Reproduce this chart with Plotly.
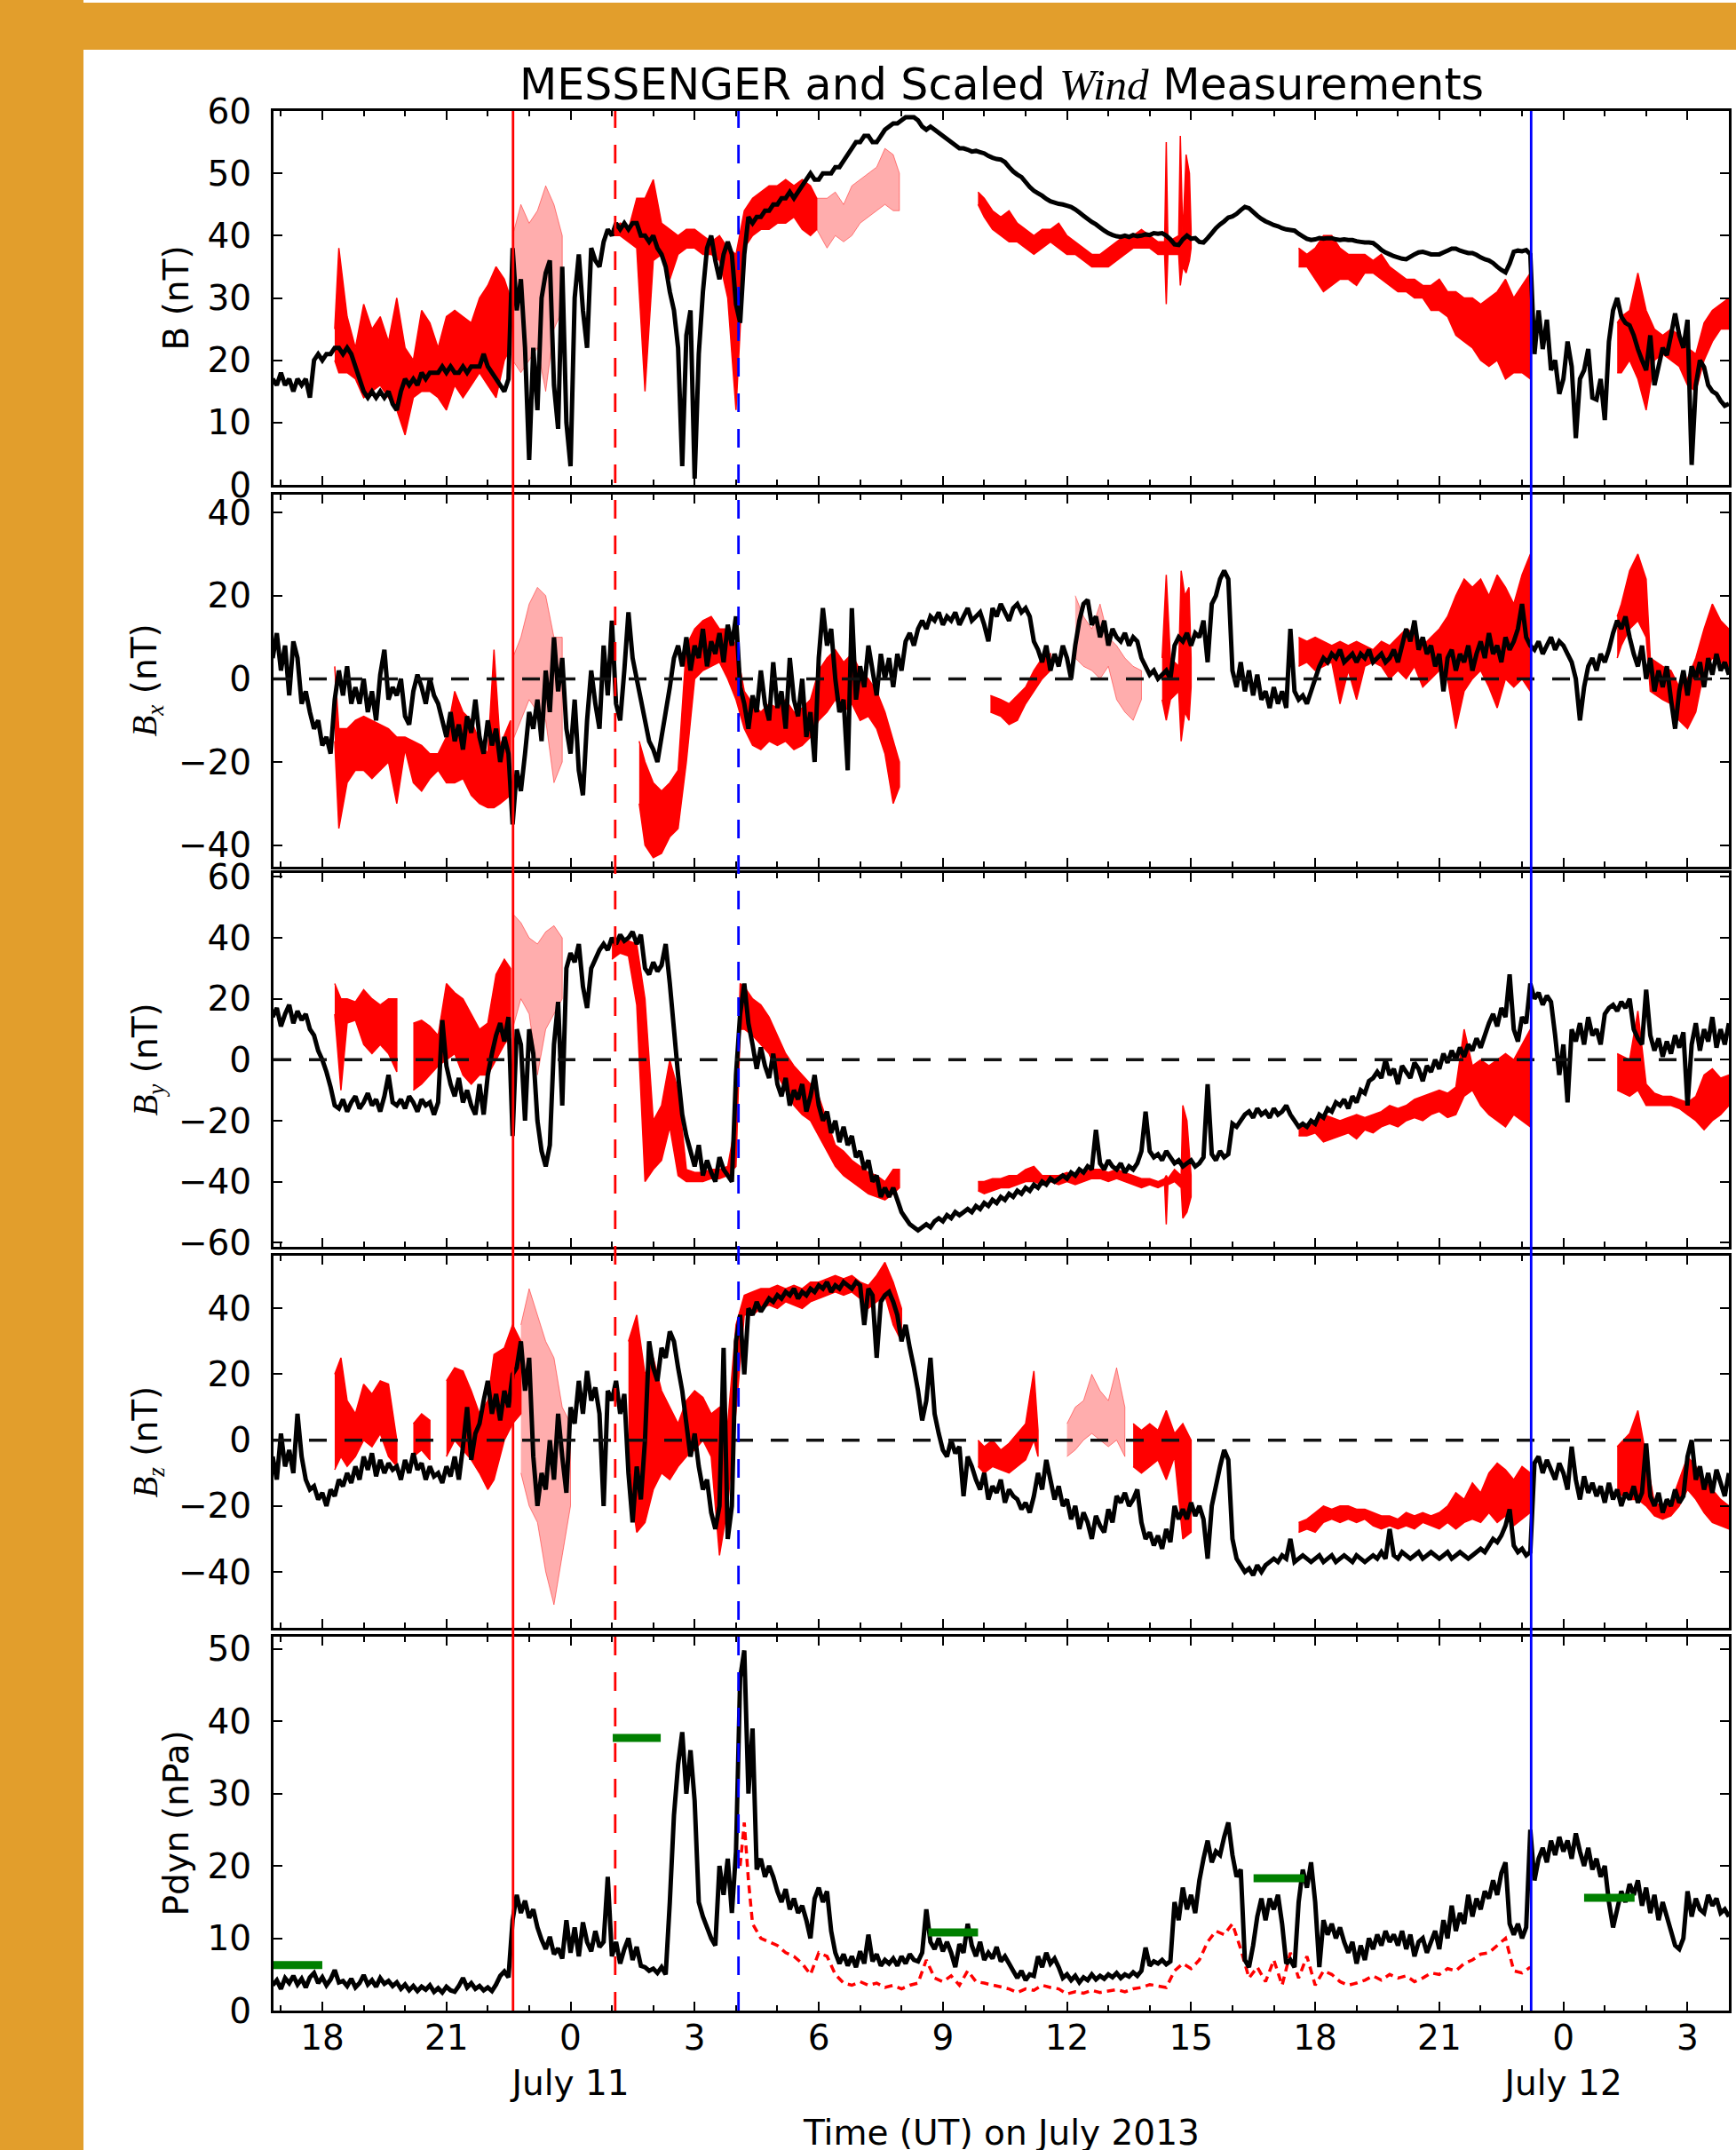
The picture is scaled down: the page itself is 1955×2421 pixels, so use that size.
import plotly.graph_objects as go

# ---------------- data (hours from 2013-07-11 00:00 UT) ----------------
T0 = -7.2      # first sample of the black (MESSENGER) traces
DT = 0.1       # sample spacing in hours

B_BLACK = [
 17,16,18,16,17,15,17,16,17,14,
 20,21,20,21,21,22,22,21,22,21,
 19,17,15,14,15,14,15,14,15,13,
 12,15,17,16,17,16,18,17,18,18,
 18,19,18,19,18,18,19,18,19,19,
 19,21,19,18,17,16,15,17,38,28,
 33,22,4,22,12,30,34,36,16,9,
 35,10,3,30,37,28,22,38,36,35,
 39,41,40,42,41,42,41,42,42,40,
 40,39,40,38,37,35,31,28,22,3,
 24,28,1,21,31,38,40,36,33,37,
 39,37,29,26,37,43,42,43,43,44,
 44,45,45,46,46,47,46,47,48,49,
 50,49,49,50,50,50,51,51,52,53,
 54,55,55,56,56,55,55,56,57,57.5,
 58,58,58.5,59,59,59,58.5,57.5,57,57.5,
 57,56.5,56,55.5,55,54.5,54,54,53.8,53.5,
 53.6,53.4,53.2,52.8,52.5,52.3,52.2,51.8,51,50.3,
 49.8,49.4,48.6,47.8,47.2,46.8,46.4,45.9,45.5,45.3,
 45.1,45,44.8,44.6,44.2,43.7,43.2,42.7,42.2,41.8,
 41.3,40.8,40.4,40.1,39.9,39.8,40,39.8,40.1,39.9,
 40,40.2,40.1,40.4,40.3,40.4,40,39.4,38.6,38.5,
 39.4,40,39.5,39.6,39,38.9,39.6,40.4,41.2,41.8,
 42.3,42.9,43.1,43.5,44.1,44.6,44.4,43.8,43.2,42.7,
 42.3,42,41.7,41.5,41.2,41,40.9,40.8,40.3,39.9,
 39.5,39.3,39.4,39.6,39.5,39.6,39.6,39.4,39.3,39.4,
 39.3,39.3,39.1,39,38.9,38.9,38.8,38.3,37.7,37.3,
 37,36.7,36.5,36.3,36.2,36.6,37,37.3,37.4,37.2,
 37,37,37,37.3,37.6,37.9,37.9,37.6,37.4,37.2,
 37.2,36.9,36.5,36.2,36,35.6,35,34.5,34.1,35.5,
 37.4,37.6,37.5,37.7,37,21,28,21.8,26.5,18.4,
 20,14.6,17,23,19,7.5,17,18.4,21.8,14,
 13.7,17,10.4,23,28,30,27,26,25.6,24,
 21.8,20,18.4,24,16,19,22,20.8,24,27.5,
 24,22,26.5,3.2,16,20,18.9,16,15,14.6,
 13.5,12.7,13,
]

BX_BLACK = [
 5,11,2,8,-4,9,5,-6,-3,-8,
 -12,-10,-16,-14,-18,-5,2,-4,3,-6,
 -2,-6,0,-8,-3,-10,1,7,-5,-2,
 -4,0,-9,-11,-3,1,-2,-6,0,-4,
 -6,-10,-14,-8,-15,-11,-17,-9,-13,-5,
 -14,-18,-10,-16,-12,-20,-14,-18,-35,-22,
 -27,-18,-8,-12,-5,-15,2,-8,10,-3,
 5,-12,-18,-5,-22,-28,-10,2,-6,-12,
 8,-4,14,-6,-10,2,16,5,0,-5,
 -10,-15,-17,-20,-14,-8,-2,5,8,3,
 10,2,8,5,12,3,9,6,11,4,
 13,8,15,-2,-6,-12,-4,-8,2,-6,
 -10,4,-7,-3,-12,5,-5,-9,0,-14,
 -8,-20,5,17,8,12,0,-8,-5,-22,
 17,-5,3,-2,8,2,-4,6,0,5,
 -2,6,2,9,11,8,12,14,12,15,
 14,16,13,15,14,16,13,15,17,14,
 15,16,13,9,17,15,18,16,14,17,
 18,16,17,15,9,7,4,8,2,6,
 3,8,5,0,8,14,18,19,13,15,
 10,14,8,12,10,9,11,8,10,9,
 5,3,1,2,0,1,2,0,8,10,
 9,11,8,11,10,14,4,18,20,24,
 26,24,2,-2,4,-3,2,-4,1,-5,
 -3,-7,-2,-6,-3,-7,12,-3,-5,-4,
 -6,-3,0,3,5,4,6,5,7,4,
 5,6,4,6,5,7,4,5,6,4,
 5,7,4,8,12,9,14,7,10,6,
 8,3,6,-3,5,7,2,6,4,8,
 2,6,9,5,11,6,8,4,10,7,
 9,12,18,10,8,7,9,6,8,10,
 7,9,8,6,4,0,-10,-2,3,5,
 2,6,4,7,11,14,12,15,10,6,
 3,8,0,5,-3,2,-2,3,-5,-12,
 -3,2,-4,3,0,4,-2,5,1,6,
 2,4,1,
]

BY_BLACK = [
 14,17,11,15,18,12,16,13,15,10,
 8,3,0,-4,-9,-15,-16,-13,-17,-14,
 -12,-16,-14,-11,-15,-13,-17,-12,-5,-14,
 -15,-13,-16,-12,-14,-17,-13,-15,-14,-18,
 -14,13,-2,-8,-12,-6,-14,-10,-15,-18,
 -8,-18,-5,2,8,12,6,14,-25,10,
 5,-20,10,2,-20,-30,-35,-28,5,19,
 -15,30,35,32,38,24,17,30,33,36,
 38,36,40,38,41,39,40,42,38,41,
 30,28,32,29,31,38,25,10,-5,-18,
 -25,-30,-35,-28,-38,-33,-37,-40,-32,-36,
 -38,-40,-5,15,25,12,5,-3,4,-2,
 -6,2,-8,-12,-6,-15,-10,-13,-8,-17,
 -12,-5,-15,-20,-17,-24,-20,-27,-22,-28,
 -25,-32,-30,-36,-33,-40,-38,-45,-42,-45,
 -42,-46,-50,-52,-54,-55,-56,-55,-54,-55,
 -53,-52,-53,-51,-52,-50,-51,-50,-49,-50,
 -48,-49,-47,-48,-46,-47,-45,-46,-44,-45,
 -43,-44,-42,-43,-41,-42,-40,-41,-39,-40,
 -39,-38,-39,-37,-38,-36,-37,-35,-36,-23,
 -34,-36,-33,-35,-36,-34,-37,-35,-36,-34,
 -30,-17,-30,-32,-31,-33,-30,-32,-34,-33,
 -35,-34,-33,-35,-34,-32,-8,-31,-33,-30,
 -32,-31,-21,-22,-20,-18,-17,-19,-16,-18,
 -17,-19,-16,-18,-17,-15,-18,-20,-22,-21,
 -22,-20,-21,-18,-19,-16,-17,-14,-15,-13,
 -16,-12,-14,-10,-11,-7,-6,-4,-6,0,
 -5,-3,-8,-2,-4,-6,-1,-3,-7,-2,
 -4,0,-3,2,-1,3,0,4,1,5,
 3,7,4,8,12,15,11,17,14,28,
 10,6,14,12,25,20,22,18,21,19,
 8,-5,5,-14,10,6,12,5,14,8,
 10,5,15,17,18,16,19,17,20,10,
 7,5,23,8,3,7,1,6,2,8,
 4,9,-15,5,12,3,10,6,14,4,
 10,5,12,
]

BZ_BLACK = [
 -5,-12,2,-8,-3,-10,8,-5,-12,-15,
 -14,-18,-16,-20,-15,-17,-12,-14,-10,-13,
 -8,-12,-5,-9,-4,-11,-6,-10,-7,-9,
 -8,-12,-6,-10,-4,-9,-7,-12,-8,-11,
 -10,-13,-8,-11,-5,-12,-2,10,-6,2,
 5,12,18,8,14,6,15,10,20,22,
 30,15,25,-5,-20,-10,-15,0,-12,8,
 -5,-16,10,5,18,8,21,12,16,8,
 -20,15,12,18,8,14,-10,-25,-8,-18,
 0,30,22,18,28,25,33,30,22,15,
 5,-5,2,-8,-15,-12,-22,-27,-20,28,
 -30,-20,30,38,20,40,38,42,39,41,
 43,42,44,43,45,44,46,43,45,44,
 46,45,47,46,48,45,47,46,48,47,
 46,48,47,35,46,44,25,42,44,45,
 42,38,30,35,28,22,15,6,12,25,
 8,2,-3,-5,0,-4,-2,-17,-5,-8,
 -12,-15,-10,-18,-14,-16,-12,-19,-15,-17,
 -18,-21,-19,-22,-17,-10,-15,-6,-12,-18,
 -14,-20,-18,-24,-20,-27,-22,-25,-30,-23,
 -26,-28,-21,-25,-17,-19,-16,-20,-18,-15,
 -25,-30,-28,-32,-29,-33,-27,-31,-20,-24,
 -21,-24,-19,-23,-20,-24,-36,-20,-14,-8,
 -3,-6,-30,-36,-38,-40,-39,-41,-38,-40,
 -38,-37,-36,-37,-35,-36,-30,-37,-36,-35,
 -36,-37,-36,-35,-37,-36,-35,-37,-36,-35,
 -36,-37,-35,-36,-37,-36,-35,-36,-34,-36,
 -27,-35,-36,-34,-35,-36,-35,-34,-36,-35,
 -34,-35,-36,-35,-34,-36,-35,-34,-35,-36,
 -35,-34,-33,-34,-32,-30,-31,-29,-26,-21,
 -32,-34,-33,-35,-34,-7,-5,-10,-6,-9,
 -12,-7,-10,-15,-2,-12,-18,-11,-16,-13,
 -17,-14,-19,-13,-18,-15,-20,-16,-18,-14,
 -19,-16,-1,-17,-20,-16,-22,-18,-20,-15,
 -19,-17,-5,0,-12,-8,-15,-10,-16,-9,
 -13,-17,-10,
]

P_BLACK = [
 3.5,4.2,3.0,4.5,3.8,4.8,3.6,4.4,3.2,4.6,
 5.2,3.8,4.6,3.5,4.3,5.6,3.9,4.1,3.4,4.4,
 3.2,3.8,4.9,3.6,4.2,3.3,4.5,3.7,4.1,3.4,
 3.9,3.0,3.6,2.8,3.4,2.7,3.3,2.9,3.5,2.6,
 3.1,2.5,3.3,2.8,2.6,3.4,4.5,3.2,3.8,3.0,
 3.4,2.8,3.2,2.7,3.6,4.8,5.4,4.6,12.5,16.0,
 13.5,15.2,12.8,14.0,11.5,9.8,8.5,10.2,7.8,8.6,
 7.2,12.5,8.0,11.5,7.5,12.2,9.5,8.2,11.0,8.8,
 9.5,18.5,7.5,9.5,6.5,8.5,10.0,7.0,8.8,6.2,
 6.0,5.5,5.8,5.2,6.0,5.0,15.0,27.0,34.0,38.5,
 30.0,36.0,29.0,15.0,13.0,11.5,10.0,9.0,20.0,16.0,
 21.0,13.5,22.0,46.0,49.8,30.0,39.0,19.5,21.0,18.5,
 20.0,18.5,16.5,15.0,16.8,14.0,15.5,13.5,14.5,12.5,
 10.0,15.5,17.0,15.0,16.5,11.0,8.0,6.5,7.8,6.2,
 7.5,6.0,8.2,6.5,10.5,6.8,7.8,6.2,7.0,6.5,
 7.2,6.2,7.5,6.5,7.8,7.0,6.8,8.0,14.0,9.5,
 8.5,10.0,8.2,9.5,8.0,6.0,9.2,8.0,12.0,9.0,
 7.5,9.5,7.0,8.0,7.2,8.8,6.8,7.5,6.5,5.5,
 4.5,5.5,4.2,5.0,4.8,7.5,6.0,8.0,6.5,7.2,
 6.0,4.5,5.0,4.2,4.8,3.9,4.6,4.2,5.0,4.3,
 4.8,4.4,5.0,4.6,5.2,4.5,5.0,4.7,5.3,4.8,
 5.5,8.7,6.2,6.8,6.5,7.0,6.4,6.8,15.0,12.5,
 17.0,14.0,16.0,13.5,18.0,21.0,23.5,20.5,22.0,21.5,
 24.0,26.0,21.5,18.5,19.5,7.0,6.0,9.0,13.0,15.5,
 12.5,15.5,14.0,16.0,12.0,6.5,7.0,6.0,15.0,19.5,
 17.0,20.5,15.0,6.0,12.5,10.5,12.0,10.0,11.5,9.5,
 8.0,9.5,6.5,9.0,7.0,10.0,8.5,10.5,9.0,11.0,
 9.5,10.5,9.0,11.0,8.5,10.5,7.5,9.5,10.0,8.0,
 9.5,11.0,8.5,12.5,10.0,14.5,11.0,13.5,12.0,16.0,
 13.0,15.5,14.0,16.5,15.5,18.0,16.0,19.0,20.5,12.0,
 10.5,12.0,10.0,11.5,25.0,18.0,21.0,22.5,20.5,23.5,
 21.5,24.0,22.0,23.5,21.0,24.5,22.0,20.0,22.5,19.5,
 21.0,18.5,20.0,15.0,11.5,14.0,16.5,15.0,17.5,16.0,
 18.0,14.5,17.0,13.5,16.0,12.5,15.0,13.0,11.0,9.0,
 8.5,10.0,16.5,13.0,15.5,14.0,13.5,16.0,14.5,15.5,
 13.5,14.0,13.0,
]

# scaled Wind data: (hour, low, high) envelopes of the dense red trace; None = gap
B_RED = [
 (-5.7,20,25),(-5.6,18,38),(-5.4,18,27),(-5.2,17,22),(-5.0,14,29),(-4.8,15,25),(-4.6,16,27),
 (-4.4,14,23),(-4.2,12,30),(-4.0,8,22),(-3.8,14,20),(-3.6,15,28),(-3.4,15,26),(-3.2,14,22),
 (-3.0,12,27),(-2.8,16,28),(-2.6,14,27),(-2.4,16,26),(-2.2,18,30),(-2.0,16,32),(-1.8,14,35),
 (-1.6,20,33),(-1.45,22,30),
 None,
 (1.0,40,41),(1.2,40,42),(1.4,39,41),(1.6,38,46),(1.8,15,46),(2.0,36,49),(2.2,37,42),(2.4,33,41),
 (2.6,37,40),(2.8,38,41),(3.0,38,41),(3.2,37,40),(3.4,37,39),(3.6,36,40),(3.8,30,38),(4.0,12,37),
 (4.2,38,44),(4.4,40,46),(4.6,41,47),(4.8,41,48),(5.0,42,48),(5.2,42,49),(5.4,43,48),(5.6,41,49),
 (5.8,40,48),(5.95,41,46),
 None,
 (9.85,45,47),(10.0,43,46),(10.2,41,44),(10.4,40,43),(10.6,39,44),(10.8,39,42),(11.0,38,41),
 (11.2,37,40),(11.4,38,41),(11.6,39,41),(11.8,38,42),(12.0,37,40),(12.2,37,39),(12.4,36,38),
 (12.6,35,37),(12.8,35,37),(13.0,35,38),(13.2,36,39),(13.4,37,40),(13.6,38,40),(13.8,38,41),
 (14.0,38,40),(14.2,37,39),(14.36,37,39),(14.4,29,55),(14.44,37,39),(14.7,37,40),(14.74,32,56),
 (14.8,35,40),(14.88,34,53),(14.96,36,50),(15.0,38,41),
 None,
 (17.6,35,38),(17.8,35,37),(18.0,33,38),(18.2,31,40),(18.4,32,40),(18.6,33,38),(18.8,33,37),
 (19.0,32,37),(19.2,34,37),(19.4,34,36),(19.6,33,37),(19.8,32,35),(20.0,31,34),(20.2,31,33),
 (20.4,30,33),(20.6,30,32),(20.8,28,32),(21.0,28,33),(21.2,27,31),(21.4,24,31),(21.6,23,30),
 (21.8,22,30),(22.0,20,29),(22.2,19,30),(22.4,20,31),(22.6,17,33),(22.8,18,30),(23.0,18,32),
 (23.2,17,34),
 None,
 (25.3,18,26),(25.4,18,27),(25.6,20,28),(25.8,17,34),(26.0,12,28),(26.2,20,25),(26.4,21,24),
 (26.6,20,25),(26.8,19,24),(27.0,16,22),(27.2,15,21),(27.4,20,26),(27.6,23,28),(27.8,25,29),
 (28.0,25,30),
]
B_RED_LIGHT = [(-1.4,20,40),(-1.2,18,45),(-1.0,20,42),(-0.8,22,44),(-0.6,15,48),(-0.4,25,45),(-0.2,28,40),
 None,
 (5.95,41,46),(6.2,38,46),(6.4,40,47),(6.6,39,45),(6.8,40,48),(7.0,42,49),(7.2,43,50),
 (7.4,44,51),(7.6,45,54),(7.8,44,53),(7.95,44,50)]

BX_RED = [
 (-5.7,-15,3),(-5.6,-36,-12),(-5.4,-25,-12),(-5.2,-22,-10),(-5.0,-22,-9),(-4.8,-24,-10),(-4.6,-22,-11),
 (-4.4,-20,-12),(-4.2,-30,-14),(-4.0,-17,-14),(-3.8,-25,-15),(-3.6,-27,-16),(-3.4,-24,-18),
 (-3.2,-22,-18),(-3.0,-25,-14),(-2.8,-25,-3),(-2.6,-24,-8),(-2.4,-28,-10),(-2.2,-30,-15),
 (-2.0,-31,-18),(-1.85,-31,7),(-1.7,-30,-16),(-1.45,-28,-10),
 None,
 (1.66,-30,-15),(1.8,-40,-20),(2.0,-43,-25),(2.2,-42,-27),(2.4,-38,-25),(2.6,-36,-22),(2.8,-20,8),
 (3.0,0,12),(3.2,2,14),(3.4,3,15),(3.6,4,12),(3.8,0,12),(4.0,-5,8),(4.2,-12,-3),(4.4,-16,-6),
 (4.6,-17,-8),(4.8,-15,-6),(5.0,-16,-7),(5.2,-15,-5),(5.4,-17,-8),(5.6,-16,-7),(5.8,-14,-5),
 (6.0,-10,2),(6.2,-8,5),(6.4,-5,7),(6.6,-8,4),(6.8,-6,6),(7.0,-10,2),(7.2,-9,0),(7.4,-12,-3),
 (7.6,-18,-8),(7.8,-30,-15),(7.95,-26,-20),
 None,
 (10.15,-8,-4),(10.4,-9,-5),(10.6,-11,-6),(10.8,-10,-4),(11.0,-6,-2),(11.2,-3,2),(11.4,0,5),(11.6,2,6),
 None,
 (14.3,-5,5),(14.4,-10,25),(14.5,-5,5),(14.7,-3,3),(14.76,-15,26),(14.85,-8,20),(14.95,-10,22),(15.0,-2,5),
 None,
 (17.6,3,10),(17.8,4,9),(18.0,2,10),(18.2,3,9),(18.4,4,8),(18.6,-6,9),(18.8,2,8),(19.0,-5,9),
 (19.2,3,8),(19.4,4,7),(19.6,3,9),(19.8,0,8),(20.0,2,10),(20.2,0,12),(20.4,3,11),(20.6,-2,8),
 (20.8,0,10),(21.0,2,12),(21.2,0,15),(21.4,-12,20),(21.6,-3,24),(21.8,0,22),(22.0,2,24),
 (22.2,-2,20),(22.4,-7,25),(22.6,0,22),(22.8,-2,18),(23.0,0,25),(23.2,-3,30),
 None,
 (25.3,5,15),(25.4,8,18),(25.6,12,26),(25.8,14,30),(26.0,10,24),(26.1,-3,5),(26.4,-5,3),
 (26.6,-6,2),(26.8,-10,-2),(27.0,-12,0),(27.2,-8,5),(27.4,2,12),(27.6,5,18),(27.8,4,14),(28.0,3,12),
]
BX_RED_LIGHT = [(-1.4,-15,5),(-1.2,-10,10),(-1.0,-5,18),(-0.8,-8,22),(-0.6,-10,20),(-0.4,-25,10),(-0.2,-20,10),
 None,
 (12.2,5,20),(12.4,3,15),(12.6,2,12),(12.8,0,18),(13.0,3,10),(13.2,-5,8),(13.4,-8,5),(13.6,-10,3),(13.8,-5,2)]

BY_RED = [
 (-5.7,15,25),(-5.55,-10,20),(-5.4,12,20),(-5.2,13,19),(-5.0,5,23),(-4.8,2,20),(-4.6,5,18),
 (-4.4,2,20),(-4.2,-4,20),
 None,
 (-3.8,-10,12),(-3.6,-8,13),(-3.4,-5,11),(-3.2,-2,8),(-3.0,0,25),(-2.8,2,22),(-2.6,-5,20),
 (-2.4,-8,15),(-2.2,-5,10),(-2.0,-5,12),(-1.8,0,28),(-1.6,5,33),(-1.45,8,30),
 None,
 (1.0,33,38),(1.2,35,40),(1.4,34,39),(1.6,18,38),(1.8,-40,20),(2.0,-36,-20),(2.2,-33,-15),
 (2.4,-22,0),(2.6,-38,-10),(2.8,-40,-36),(3.0,-40,-37),(3.2,-40,-37),(3.4,-39,-36),(3.6,-39,-36),
 (3.8,-38,-35),(4.0,-35,-20),(4.1,10,25),(4.2,10,24),(4.4,8,20),(4.6,5,18),(4.8,2,14),(5.0,-5,8),
 (5.2,-10,2),(5.4,-15,-2),(5.6,-18,-5),(5.8,-20,-8),(6.0,-25,-12),(6.2,-30,-20),(6.4,-35,-28),
 (6.6,-38,-30),(6.8,-40,-33),(7.0,-42,-35),(7.2,-44,-37),(7.4,-45,-38),(7.6,-46,-40),(7.8,-44,-36),
 (7.95,-42,-36),
 None,
 (9.85,-43,-40),(10.0,-44,-40),(10.2,-43,-39),(10.4,-42,-39),(10.6,-42,-38),(10.8,-41,-38),
 (11.0,-40,-36),(11.2,-40,-35),(11.4,-41,-38),(11.6,-40,-38),(11.8,-41,-38),(12.0,-40,-37),
 (12.2,-41,-38),(12.4,-40,-37),(12.6,-39,-36),(12.8,-39,-36),(13.0,-40,-37),(13.2,-39,-36),
 (13.4,-40,-37),(13.6,-41,-38),(13.8,-42,-39),(14.0,-41,-39),(14.2,-42,-40),(14.36,-41,-39),
 (14.4,-54,-38),(14.44,-41,-39),(14.6,-40,-36),(14.76,-42,-38),(14.8,-52,-15),(14.9,-50,-20),
 (15.0,-45,-38),
 None,
 (17.6,-25,-22),(17.8,-25,-22),(18.0,-24,-21),(18.2,-27,-18),(18.4,-26,-19),(18.6,-25,-20),
 (18.8,-24,-19),(19.0,-26,-18),(19.2,-23,-19),(19.4,-24,-18),(19.6,-22,-17),(19.8,-21,-15),
 (20.0,-22,-16),(20.2,-20,-15),(20.4,-19,-13),(20.6,-20,-12),(20.8,-18,-11),(21.0,-17,-10),
 (21.2,-19,-11),(21.4,-18,-9),(21.6,-12,10),(21.8,-10,-2),(22.0,-15,0),(22.2,-18,-2),
 (22.4,-20,0),(22.6,-22,2),(22.8,-18,0),(23.0,-20,5),(23.2,-22,10),
 None,
 (25.3,-10,2),(25.6,-12,0),(25.8,-10,16),(26.0,-15,-8),(26.2,-15,-11),(26.4,-15,-12),(26.6,-15,-12),
 (26.8,-16,-13),(27.0,-18,-14),(27.2,-20,-12),(27.4,-23,-5),(27.6,-20,-3),(27.8,-18,-6),(28.0,-15,-5),
]
BY_RED_LIGHT = [(-1.4,10,48),(-1.2,20,45),(-1.0,15,40),(-0.8,-5,38),(-0.6,10,42),(-0.4,15,44),(-0.2,20,40)]

BZ_RED = [
 (-5.7,-9,20),(-5.55,-5,25),(-5.4,-8,12),(-5.2,-5,8),(-5.0,0,17),(-4.8,-2,14),(-4.6,2,18),
 (-4.4,-5,17),(-4.2,-8,0),
 None,
 (-3.8,-5,5),(-3.6,-3,8),(-3.4,-6,6),
 None,
 (-3.0,-5,18),(-2.8,0,22),(-2.6,-3,21),(-2.4,-6,15),(-2.2,-10,8),(-2.0,-15,12),(-1.85,-12,26),
 (-1.6,0,28),(-1.4,5,35),(-1.2,8,30),
 None,
 (1.4,-10,30),(1.6,-28,38),(1.8,-25,20),(2.0,-15,25),(2.2,-10,15),(2.4,-12,10),(2.6,-8,5),
 (2.8,-5,12),(3.0,-3,15),(3.2,0,13),(3.4,-5,8),(3.6,-35,10),(3.8,-20,5),(4.0,10,35),(4.2,38,44),
 (4.4,38,45),(4.6,40,46),(4.8,41,46),(5.0,40,47),(5.2,42,46),(5.4,41,47),(5.6,40,46),(5.8,42,48),
 (6.0,43,48),(6.2,44,49),(6.4,45,50),(6.6,44,49),(6.8,45,50),(7.0,43,48),(7.2,40,47),(7.4,42,50),
 (7.6,44,54),(7.8,35,48),(8.0,30,40),
 None,
 (9.85,-8,0),(10.0,-10,-2),(10.2,-8,0),(10.4,-9,-3),(10.6,-10,-1),(10.8,-8,2),(11.0,-6,5),
 (11.2,0,21),(11.3,-5,3),
 None,
 (13.6,-8,5),(13.8,-10,3),(14.0,-8,5),(14.2,-6,3),(14.4,-12,9),(14.6,-5,2),(14.8,-30,5),(15.0,-28,0),
 None,
 (17.6,-28,-25),(17.8,-27,-24),(18.0,-28,-22),(18.2,-25,-20),(18.4,-24,-21),(18.6,-25,-20),
 (18.8,-24,-20),(19.0,-25,-21),(19.2,-24,-21),(19.4,-26,-22),(19.6,-27,-23),(19.8,-26,-23),
 (20.0,-27,-24),(20.2,-26,-22),(20.4,-27,-23),(20.6,-25,-22),(20.8,-26,-23),(21.0,-27,-22),
 (21.2,-25,-20),(21.4,-27,-16),(21.6,-25,-18),(21.8,-24,-13),(22.0,-25,-16),(22.2,-22,-10),
 (22.4,-25,-7),(22.6,-23,-9),(22.8,-26,-12),(23.0,-24,-8),(23.2,-22,-10),
 None,
 (25.3,-16,-2),(25.6,-18,2),(25.8,-18,9),(26.0,-20,-5),(26.2,-23,-19),(26.4,-24,-20),(26.6,-23,-19),
 (26.8,-20,-12),(27.0,-15,-5),(27.2,-18,-8),(27.4,-22,-12),(27.6,-25,-15),(27.8,-26,-18),(28.0,-27,-20),
]
BZ_RED_LIGHT = [(-1.2,-10,35),(-1.0,-20,46),(-0.8,-25,38),(-0.6,-40,30),(-0.4,-50,25),(-0.2,-35,10),(0.0,-20,5),
 None,
 (12.0,-5,5),(12.2,-3,10),(12.4,0,12),(12.6,2,20),(12.8,0,15),(13.0,-2,12),(13.2,0,22),(13.4,-5,10)]

# scaled Wind dynamic pressure (red dashed) where it departs from the black curve
P_RED = [
 (4.1,20),(4.2,26),(4.3,18),(4.4,12),(4.6,10),(4.8,9.5),(5.0,9),(5.2,8),(5.4,7.5),(5.6,6.5),(5.8,5),
 (6.0,8),(6.2,7.5),(6.4,5),(6.6,3.8),(6.8,3.5),(7.0,4),(7.2,3.5),(7.4,3.8),(7.6,3.2),(7.8,3.5),
 (8.0,3.0),(8.2,3.5),(8.4,3.8),(8.6,7.0),(8.8,4.5),(9.0,4.0),(9.2,4.8),(9.4,3.5),(9.6,5.5),(9.8,4.0),
 (10.0,3.8),(10.2,3.5),(10.4,3.2),(10.6,3.0),(10.8,2.5),(11.0,3.0),(11.2,2.8),(11.4,3.5),(11.6,3.2),
 (11.8,3.0),(12.0,2.3),(12.2,2.6),(12.4,2.4),(12.6,2.8),(12.8,2.5),(13.0,2.7),(13.2,2.9),(13.4,2.6),
 (13.6,3.0),(13.8,3.2),(14.0,3.6),(14.2,3.4),(14.4,3.2),(14.6,5.5),(14.8,6.5),(15.0,5.8),(15.2,7.0),
 (15.4,9.5),(15.6,11.0),(15.8,10.5),(16.0,12.0),(16.2,8.5),(16.4,4.5),(16.6,6.0),(16.8,4.0),(17.0,7.0),
 (17.2,3.5),(17.4,8.0),(17.6,4.5),(17.8,7.5),(18.0,3.5),(18.2,5.5),(18.4,5.0),(18.6,4.0),(18.8,3.5),
 (19.0,3.8),(19.2,4.2),(19.4,4.8),(19.6,4.2),(19.8,5.0),(20.0,4.5),(20.2,4.8),(20.4,4.0),(20.6,4.5),
 (20.8,5.2),(21.0,5.0),(21.2,5.8),(21.4,5.5),(21.6,6.5),(21.8,7.0),(22.0,7.8),(22.2,8.0),(22.4,9.0),
 (22.6,10.0),(22.8,5.5),(23.0,5.2),(23.2,6.0),
]

# green model pressure bars: (start hour, end hour, value)
P_GREEN = [(-7.18,-6.0,6.3),(1.02,2.18,37.7),(8.65,9.85,10.8),(16.51,17.74,18.3),(24.5,25.72,15.6)]

# boundary times: (hour, colour, dash)
V_LINES = [(-1.39,'#FF0000','solid'),(1.08,'#FF0000','dash'),(4.06,'#0000FF','dash'),(23.22,'#0000FF','solid')]

X_TICKVALS = [-6,-3,0,3,6,9,12,15,18,21,24,27]
X_TICKTEXT = ['18','21','0<br>July 11','3','6','9','12','15','18','21','0<br>July 12','3']
X_RANGE = [-7.18, 28.0]

Y_RANGES = [[0,60],[-45.2,44.3],[-61.4,61.3],[-57,56],[0,51.7]]
Y_TICKS = [[0,10,20,30,40,50,60],[-40,-20,0,20,40],[-60,-40,-20,0,20,40,60],[-40,-20,0,20,40],[0,10,20,30,40,50]]

SERIF = "font-family:Liberation Serif"
Y_LABELS = [
 "B (nT)",
 f"<span style='{SERIF}'><i>B</i><sub><i>x</i></sub></span> (nT)",
 f"<span style='{SERIF}'><i>B</i><sub><i>y</i></sub></span> (nT)",
 f"<span style='{SERIF}'><i>B</i><sub><i>z</i></sub></span> (nT)",
 "Pdyn (nPa)",
]
TITLE = f"MESSENGER and Scaled <span style='{SERIF}'><i>Wind</i></span> Measurements"
XTITLE = "Time (UT) on July 2013"

# ---------------- layout geometry (pixels) ----------------
W, H = 1955, 2421
PX_L, PX_R = 308, 1947
PANELS_PX = [(125,546),(557,976),(983,1404),(1414,1833),(1843,2264)]
YLABEL_X = [198,165,165,165,198]
FONT = "DejaVu Sans"
ORANGE = "#E29E2C"


def grid(vals):
    return [round(T0 + DT*i, 3) for i in range(len(vals))]


def band(rows):
    xs, ys, seg = [], [], []
    def flush():
        if seg:
            xs.extend([r[0] for r in seg] + [r[0] for r in seg[::-1]] + [None])
            ys.extend([r[2] for r in seg] + [r[1] for r in seg[::-1]] + [None])
            seg.clear()
    for r in rows:
        if r is None:
            flush()
        else:
            seg.append(r)
    flush()
    return xs, ys


fig = go.Figure()

blacks = [B_BLACK, BX_BLACK, BY_BLACK, BZ_BLACK, P_BLACK]
reds = [B_RED, BX_RED, BY_RED, BZ_RED, None]
lights = [B_RED_LIGHT, BX_RED_LIGHT, BY_RED_LIGHT, BZ_RED_LIGHT, None]

for i in range(5):
    xa, ya = f"x{i+1}", f"y{i+1}"
    if lights[i]:
        lx, ly = band(lights[i])
        fig.add_trace(go.Scatter(x=lx, y=ly, xaxis=xa, yaxis=ya, mode="lines", fill="toself",
                                 fillcolor="rgba(255,0,0,0.32)", line=dict(width=1, color="rgba(255,0,0,0.45)"),
                                 hoverinfo="skip"))
    if reds[i]:
        rx, ry = band(reds[i])
        fig.add_trace(go.Scatter(x=rx, y=ry, xaxis=xa, yaxis=ya, mode="lines", fill="toself",
                                 fillcolor="#FF0000", line=dict(width=1.5, color="#FF0000"),
                                 hoverinfo="skip"))
    if i == 4:
        fig.add_trace(go.Scatter(x=[p[0] for p in P_RED], y=[p[1] for p in P_RED], xaxis=xa, yaxis=ya,
                                 mode="lines", line=dict(width=3.5, color="#FF0000", dash="9px,6px"),
                                 hoverinfo="skip"))
    fig.add_trace(go.Scatter(x=grid(blacks[i]), y=blacks[i], xaxis=xa, yaxis=ya, mode="lines",
                             line=dict(width=5, color="black", simplify=False), hoverinfo="skip"))
    if i == 4:
        gx, gy = [], []
        for a, b, v in P_GREEN:
            gx += [a, b, None]
            gy += [v, v, None]
        fig.add_trace(go.Scatter(x=gx, y=gy, xaxis=xa, yaxis=ya, mode="lines",
                                 line=dict(width=9, color="#008000"), hoverinfo="skip"))

layout = dict(
    width=W, height=H, margin=dict(l=0, r=0, t=0, b=0, pad=0, autoexpand=False),
    paper_bgcolor=ORANGE, plot_bgcolor="white", showlegend=False, hovermode=False,
    font=dict(family=FONT, size=39, color="black"),
)

xdom = [PX_L / W, PX_R / W]
for i in range(5):
    top, bot = PANELS_PX[i]
    ydom = [1 - bot / H, 1 - top / H]
    layout[f"xaxis{i+1}"] = dict(
        domain=xdom, range=X_RANGE, anchor=f"y{i+1}", automargin=False,
        tickmode="array", tickvals=X_TICKVALS, ticktext=X_TICKTEXT,
        ticks="inside", ticklen=10, tickwidth=2, tickcolor="black",
        mirror="allticks", showline=True, linecolor="black", linewidth=3,
        showgrid=False, zeroline=False, showticklabels=(i == 4),
        tickfont=dict(family=FONT, size=39, color="black"), ticklabelstandoff=-6,
        minor=dict(dtick=1, tick0=0, ticks="inside", ticklen=6, tickwidth=2, tickcolor="black", showgrid=False),
        **({} if i == 4 else dict(matches="x5")),
    )
    layout[f"yaxis{i+1}"] = dict(
        domain=ydom, range=Y_RANGES[i], anchor=f"x{i+1}", automargin=False,
        tickmode="array", tickvals=Y_TICKS[i],
        ticktext=[str(v).replace("-", "\u2212") for v in Y_TICKS[i]],
        ticks="inside", ticklen=10, tickwidth=2, tickcolor="black",
        mirror="allticks", showline=True, linecolor="black", linewidth=3,
        showgrid=False, zeroline=False,
        tickfont=dict(family=FONT, size=39, color="black"), ticklabelstandoff=14,
    )

shapes = [
    dict(type="rect", xref="paper", yref="paper", x0=94 / W, x1=1, y0=0, y1=1 - 56 / H,
         fillcolor="white", line=dict(width=0), layer="below"),
    dict(type="rect", xref="paper", yref="paper", x0=94 / W, x1=1, y0=1 - 3 / H, y1=1,
         fillcolor="white", line=dict(width=0), layer="below"),
]
for i in (1, 2, 3):
    shapes.append(dict(type="line", xref=f"x{i+1} domain", yref=f"y{i+1}", x0=0, x1=1, y0=0, y1=0,
                       line=dict(color="#111111", width=3.5, dash="20px,20px"), layer="above"))
y_lo = 1 - PANELS_PX[4][1] / H
y_hi = 1 - PANELS_PX[0][0] / H
for t, c, d in V_LINES:
    shapes.append(dict(type="line", xref="x5", yref="paper", x0=t, x1=t, y0=y_lo, y1=y_hi,
                       line=dict(color=c, width=2.8, dash=("21px,19px" if d == "dash" else "solid")),
                       layer="above"))
layout["shapes"] = shapes

ann = [dict(text=TITLE, xref="paper", yref="paper", x=(PX_L + PX_R) / 2 / W, y=1 - 95 / H,
            xanchor="center", yanchor="middle", showarrow=False, font=dict(family=FONT, size=49))]
for i in range(5):
    top, bot = PANELS_PX[i]
    ann.append(dict(text=Y_LABELS[i], xref="paper", yref="paper", x=YLABEL_X[i] / W,
                    y=1 - (top + bot) / 2 / H, xanchor="center", yanchor="middle", textangle=-90,
                    showarrow=False, font=dict(family=FONT, size=39)))
ann.append(dict(text=XTITLE, xref="paper", yref="paper", x=(PX_L + PX_R) / 2 / W, y=1 - 2401 / H,
                xanchor="center", yanchor="middle", showarrow=False, font=dict(family=FONT, size=39)))
layout["annotations"] = ann

fig.update_layout(**layout)

PAGE_FIX = ("document.documentElement.style.margin='0px';document.body.style.margin='0px';"
            "document.body.style.padding='0px';document.body.style.overflow='hidden';"
            "document.documentElement.style.overflow='hidden';"
            "var g=document.getElementById('{plot_id}');g.style.position='absolute';"
            "g.style.left='0px';g.style.top='0px';")
fig.write_html("out.html", post_script=PAGE_FIX, config={"displayModeBar": False})
